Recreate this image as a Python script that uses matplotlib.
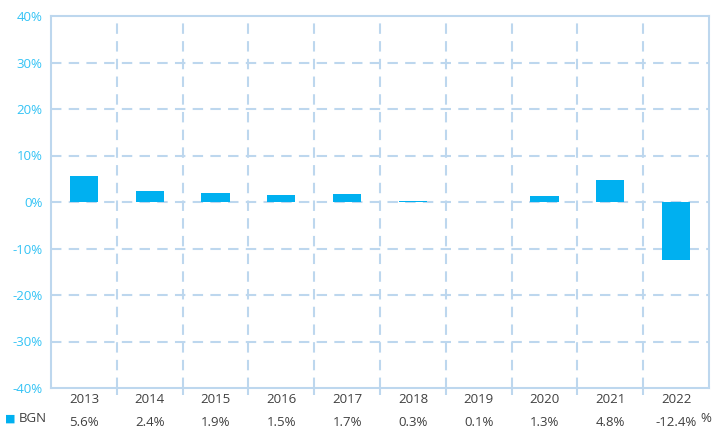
import matplotlib
matplotlib.use("Agg")
import matplotlib.pyplot as plt

years = ["2013", "2014", "2015", "2016", "2017", "2018", "2019", "2020", "2021", "2022"]
bgn = [5.6, 2.4, 1.9, 1.5, 1.7, 0.3, 0.1, 1.3, 4.8, -12.4]
yticks = [-40, -30, -20, -10, 0, 10, 20, 30, 40]
series_name = "BGN"

bar_color = "#00B0F0"
grid_color = "#BDD7EE"
ytick_color = "#33C3F5"
text_color = "#404040"

plt.rcParams["font.family"] = ["Open Sans", "DejaVu Sans"]

fig = plt.figure(figsize=(7.12, 4.28), dpi=100)
ax = fig.add_axes([51 / 712, 40 / 428, 658 / 712, 372 / 428])

x = list(range(len(years)))
ax.bar(x, bgn, width=0.43, color=bar_color, zorder=3)

ax.set_xlim(-0.5, len(years) - 0.5)
ax.set_ylim(-40, 40)
ax.set_yticks(yticks)
ax.set_yticklabels([f"{v}%" for v in yticks], color=ytick_color, fontsize=9.5)
ax.tick_params(axis="y", length=0, pad=6)

# dashed grid
for v in yticks[1:-1]:
    ax.axhline(v, color=grid_color, lw=1.5, ls=(0, (5, 3.5)), zorder=1)
for i in range(1, len(years)):
    ax.axvline(i - 0.5, color=grid_color, lw=1.5, ls=(0, (5, 3.5)), zorder=1)

for s in ax.spines.values():
    s.set_color(grid_color)
    s.set_linewidth(1.5)

# category ticks on boundaries
ax.set_xticks([i - 0.5 for i in range(1, len(years))], minor=True)
ax.tick_params(axis="x", which="minor", length=5, color=grid_color, width=1.5)
ax.set_xticks([])

# data table
row_y = 1 - 419 / 428
for i, (yr, v) in enumerate(zip(years, bgn)):
    ax.text(i, -42.5, yr, ha="center", va="center", fontsize=9.5,
            color=text_color, clip_on=False)
    ax.text(i, -47.4, f"{v:.1f}%", ha="center", va="center", fontsize=9.5,
            color=text_color, clip_on=False)
fig.text(5 / 712, row_y, "■", color=bar_color, fontsize=8,
         va="center", ha="left")
fig.text(19 / 712, row_y, series_name, color=text_color, fontsize=9.5,
         va="center", ha="left")
fig.text(700 / 712, row_y, "%", color=text_color, fontsize=9.5,
         va="center", ha="left")

fig.savefig("out.png", dpi=100)
